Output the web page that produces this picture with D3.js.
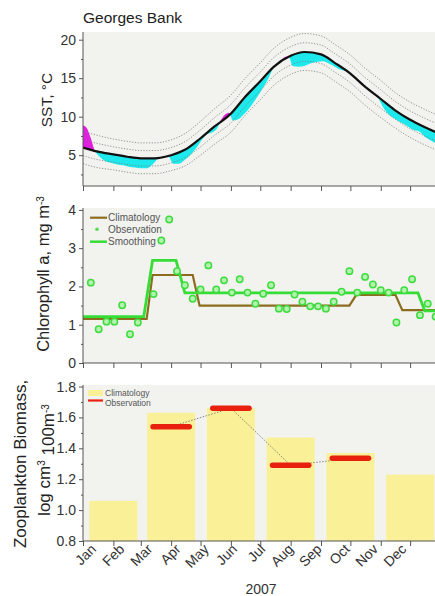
<!DOCTYPE html>
<html>
<head>
<meta charset="utf-8">
<script src="https://cdn.jsdelivr.net/npm/d3@7"></script>
<style>
  body { margin: 0; background: #ffffff; }
  text { font-family: Arial, "Liberation Sans", sans-serif; }
</style>
</head>
<body>
<svg id="chart" width="435" height="596"></svg>
<script>
// ---------------- data ----------------
const months = ["Jan","Feb","Mar","Apr","May","Jun","Jul","Aug","Sep","Oct","Nov","Dec"];

// SST climatology (semi-monthly) and its standard deviation
const sstClimDates = ["01-01","01-15","02-01","02-15","03-01","03-15","04-01","04-15","05-01","05-15",
  "06-01","06-15","07-01","07-15","08-01","08-15","09-01","09-15","10-01","10-15","11-01","11-15","12-01","12-15","12-31"];
const sstClim = [6.0,5.5,5.1,4.8,4.6,4.6,5.0,5.7,7.2,8.7,10.4,12.5,14.6,16.5,17.9,18.4,18.1,17.0,15.6,14.0,12.3,10.9,9.6,8.7,7.8];
const sstSD   = [1.05,1.05,1.0,1.0,1.0,1.0,1.0,1.05,1.1,1.15,1.2,1.2,1.2,1.2,1.2,1.2,1.2,1.2,1.2,1.2,1.2,1.15,1.15,1.15,1.15];

// SST observed in 2007
const sstObsDates = ["01-01","01-05","01-09","01-13","01-18","01-24","01-30","02-05","02-11","02-17","02-23",
  "03-01","03-07","03-13","03-19","03-24","03-29","04-03","04-09","04-15","04-21","04-27","05-03","05-07",
  "05-12","05-18","05-22","05-26","05-30","06-03","06-09","06-15","06-21","06-27","07-03","07-09","07-13",
  "07-20","07-26","07-30","08-03","08-09","08-15","08-21","08-27","09-03","09-09","09-15","09-21","09-25",
  "10-01","10-08","10-12","10-16","10-23","10-29","11-04","11-10","11-16","11-22","11-28","12-04","12-10",
  "12-16","12-22","12-28","12-31"];
const sstObs = [8.9,8.5,7.2,5.6,4.8,4.2,4.0,3.8,3.7,3.5,3.4,
  3.3,3.3,3.8,4.6,4.85,4.9,3.9,3.9,4.4,5.1,6.0,7.1,7.7,
  7.9,8.5,9.6,10.3,10.5,9.5,9.7,10.4,11.3,12.4,13.6,14.9,16.0,
  17.0,17.75,17.85,16.6,16.5,16.6,16.9,17.1,17.2,16.9,16.5,16.1,16.0,
  15.6,14.8,14.5,13.9,13.1,12.5,11.1,10.2,9.7,9.2,8.8,8.3,8.1,
  7.4,6.9,6.5,6.3];

// Chlorophyll a
const chlClimDates = ["01-01","03-07","03-13","04-23","04-30","09-30","10-07","11-16","11-23","12-31"];
const chlClim = [1.15,1.15,2.30,2.30,1.50,1.50,1.78,1.78,1.38,1.38];
const chlSmoothDates = ["01-01","03-04","03-13","04-06","04-15","12-09","12-16","12-31"];
const chlSmooth = [1.21,1.21,2.68,2.68,1.83,1.83,1.36,1.36];
const chlObsDay = [8,16,24,32,40,48,56,72,80,88,96,104,112,120,128,136,144,152,160,168,176,184,192,
  200,208,216,224,232,240,248,256,264,272,280,288,296,304,312,320,328,336,344,352,360];
const chlObs = [2.10,0.88,1.08,1.08,1.51,0.75,1.06,1.80,3.20,3.75,2.40,2.03,1.68,1.92,2.55,1.92,2.16,
  1.84,2.19,1.84,1.55,1.81,2.03,1.42,1.41,1.79,1.60,1.48,1.48,1.42,1.60,1.86,2.40,1.84,2.25,2.05,1.90,
  1.84,1.06,1.90,2.19,1.25,1.55,1.21];

// Zooplankton biomass (bimonthly)
const zooDates = ["02-01","04-01","06-01","08-01","10-01","12-01"];
const zooClim = [1.06,1.63,1.66,1.47,1.37,1.23];
const zooObsDates = ["04-01","06-01","08-01","10-01"];
const zooObs = [1.54,1.66,1.29,1.335];

// axis ticks
const sstTicks = [5,10,15,20];
const sstMinor = [2.5,7.5,12.5,17.5];
const chlTicks = [0,1,2,3,4];
const chlMinor = [0.5,1.5,2.5,3.5];
const zooTicks = [0.8,1.0,1.2,1.4,1.6,1.8];
const zooMinor = [0.9,1.1,1.3,1.5,1.7];

// ---------------- drawing ----------------
const svg = d3.select("#chart");
const parse = d3.utcParse("%Y-%m-%d");
const day = s => parse("2007-" + s);
const jan1 = Date.UTC(2007, 0, 1);
const DAY = 864e5;

const plotL = 83, plotR = 440.5;
const x = d3.scaleUtc().domain([new Date(jan1), new Date(Date.UTC(2008, 0, 1))]).range([plotL, plotR]);

const BG = "#f2f3ef", AXIS = "#555", TXT = "#333";

function makePanel(id, top, bottom, domain, yTop) {
  const y = d3.scaleLinear().domain(domain).range([bottom, yTop]);
  svg.append("rect").attr("x", plotL).attr("y", top).attr("width", plotR - plotL).attr("height", bottom - top).attr("fill", BG);
  svg.append("clipPath").attr("id", id).append("rect")
    .attr("x", plotL).attr("y", top).attr("width", plotR - plotL).attr("height", bottom - top);
  const g = svg.append("g").attr("clip-path", `url(#${id})`);
  return { y, g, top, bottom };
}

function drawAxes(p, ticks, minor, fmt) {
  const ya = svg.append("g").attr("transform", `translate(${plotL},0)`)
    .call(d3.axisLeft(p.y).tickValues(ticks).tickFormat(fmt).tickSize(4).tickSizeOuter(0).tickPadding(3));
  ya.select(".domain").attr("stroke", AXIS).attr("d", `M0,${p.top}V${p.bottom}`);
  ya.selectAll(".tick line").attr("stroke", AXIS);
  ya.selectAll("text").attr("fill", TXT).attr("font-size", 14).attr("font-family", "Arial, 'Liberation Sans', sans-serif");
  const ym = svg.append("g").attr("transform", `translate(${plotL},0)`)
    .call(d3.axisLeft(p.y).tickValues(minor).tickFormat("").tickSize(2).tickSizeOuter(0));
  ym.select(".domain").remove();
  ym.selectAll(".tick line").attr("stroke", AXIS);

  const monthStarts = d3.utcMonth.range(new Date(jan1), new Date(Date.UTC(2007, 11, 2)));
  const xa = svg.append("g").attr("transform", `translate(0,${p.bottom})`)
    .call(d3.axisBottom(x).tickValues(monthStarts).tickFormat("").tickSize(5).tickSizeOuter(0));
  xa.select(".domain").attr("stroke", AXIS).attr("d", `M${plotL},0H${plotR}`);
  xa.selectAll(".tick line").attr("stroke", AXIS);
}

// ---- Panel 1: SST ----
const p1 = makePanel("clipSST", 32, 186, [1, 21], 32);
const climPts = sstClimDates.map((s, i) => ({ t: day(s), v: sstClim[i], sd: sstSD[i] }));
const obsPts = sstObsDates.map((s, i) => ({ t: day(s), v: sstObs[i] }));
const curve = d3.curveMonotoneX;

const belowClim = d3.area().x(d => x(d.t)).y0(p1.bottom).y1(d => p1.y(d.v)).curve(curve);
const aboveClim = d3.area().x(d => x(d.t)).y0(p1.top).y1(d => p1.y(d.v)).curve(curve);
svg.append("clipPath").attr("id", "belowClim").append("path").attr("d", belowClim(climPts));
svg.append("clipPath").attr("id", "aboveClim").append("path").attr("d", aboveClim(climPts));

// colder than climatology
p1.g.append("g").attr("clip-path", "url(#belowClim)").append("path")
  .attr("d", d3.area().x(d => x(d.t)).y0(p1.top).y1(d => p1.y(d.v)).curve(curve)(obsPts))
  .attr("fill", "#1de9ec");
// warmer than climatology
p1.g.append("g").attr("clip-path", "url(#aboveClim)").append("path")
  .attr("d", d3.area().x(d => x(d.t)).y0(d => p1.y(d.v)).y1(p1.bottom).curve(curve)(obsPts))
  .attr("fill", "#e01fe0");

// +/- 1 and 2 standard deviation envelopes
[-2, -1, 1, 2].forEach(k => {
  p1.g.append("path")
    .attr("d", d3.line().x(d => x(d.t)).y(d => p1.y(d.v + k * d.sd)).curve(curve)(climPts))
    .attr("fill", "none").attr("stroke", "#7a7a7a").attr("stroke-width", 0.8).attr("stroke-dasharray", "1.2,1.6");
});
p1.g.append("path")
  .attr("d", d3.line().x(d => x(d.t)).y(d => p1.y(d.v)).curve(curve)(climPts))
  .attr("fill", "none").attr("stroke", "#111").attr("stroke-width", 2.2);

drawAxes(p1, sstTicks, sstMinor, d3.format("d"));

svg.append("text").attr("x", plotL).attr("y", 23).attr("font-size", 15.5).attr("fill", "#222").text("Georges Bank");
svg.append("text").attr("transform", "translate(52,100) rotate(-90)").attr("text-anchor", "middle")
  .attr("font-size", 15.5).attr("fill", "#222").text("SST, °C");

// ---- Panel 2: Chlorophyll ----
const p2 = makePanel("clipChl", 208, 363, [0, 4.05], 208);
const lineXY = (dates, vals) => d3.line().x((d, i) => x(day(dates[i]))).y((d, i) => p2.y(vals[i]))(vals);
p2.g.append("path").attr("d", lineXY(chlClimDates, chlClim))
  .attr("fill", "none").attr("stroke", "#8c6d1f").attr("stroke-width", 2.2);
p2.g.append("path").attr("d", lineXY(chlSmoothDates, chlSmooth))
  .attr("fill", "none").attr("stroke", "#36dd36").attr("stroke-width", 2.8);
p2.g.selectAll("circle.obs").data(chlObs).join("circle").attr("class", "obs")
  .attr("cx", (d, i) => x(new Date(jan1 + chlObsDay[i] * DAY)))
  .attr("cy", d => p2.y(d)).attr("r", 3.2)
  .attr("fill", "#b4f2b0").attr("stroke", "#3fdc3f").attr("stroke-width", 1.5);

drawAxes(p2, chlTicks, chlMinor, d3.format("d"));

const lg2 = svg.append("g").attr("font-size", 10).attr("fill", "#555");
lg2.append("line").attr("x1", 90).attr("x2", 107).attr("y1", 217.7).attr("y2", 217.7).attr("stroke", "#8c6d1f").attr("stroke-width", 2.2);
lg2.append("text").attr("x", 108).attr("y", 221).text("Climatology");
lg2.append("circle").attr("cx", 97).attr("cy", 229.3).attr("r", 1.8).attr("fill", "#55dd55");
lg2.append("text").attr("x", 108).attr("y", 232.8).text("Observation");
lg2.append("line").attr("x1", 90).attr("x2", 107).attr("y1", 241.7).attr("y2", 241.7).attr("stroke", "#36dd36").attr("stroke-width", 2.5);
lg2.append("text").attr("x", 108).attr("y", 245).text("Smoothing");

const chlLab = svg.append("text").attr("transform", "translate(49,274) rotate(-90)").attr("text-anchor", "middle")
  .attr("font-size", 16.5).attr("fill", "#222");
chlLab.append("tspan").text("Chlorophyll a, mg m");
chlLab.append("tspan").attr("dy", "-0.5em").attr("font-size", 10).text("-3");

// ---- Panel 3: Zooplankton ----
const p3 = makePanel("clipZoo", 385, 541, [0.8, 1.81], 385);
const barHalf = 24.5 * DAY, obsHalf = 18.5 * DAY;
p3.g.selectAll("rect.bar").data(zooClim).join("rect").attr("class", "bar")
  .attr("x", (d, i) => x(new Date(+day(zooDates[i]) - barHalf)))
  .attr("width", (d, i) => x(new Date(+day(zooDates[i]) + barHalf)) - x(new Date(+day(zooDates[i]) - barHalf)))
  .attr("y", d => p3.y(d)).attr("height", d => p3.bottom - p3.y(d))
  .attr("fill", "#faf097");
p3.g.append("path")
  .attr("d", d3.line().x((d, i) => x(day(zooObsDates[i]))).y(d => p3.y(d))(zooObs))
  .attr("fill", "none").attr("stroke", "#777").attr("stroke-width", 0.9).attr("stroke-dasharray", "1.5,1.5");
p3.g.selectAll("line.obs").data(zooObs).join("line").attr("class", "obs")
  .attr("x1", (d, i) => x(new Date(+day(zooObsDates[i]) - obsHalf)))
  .attr("x2", (d, i) => x(new Date(+day(zooObsDates[i]) + obsHalf)))
  .attr("y1", d => p3.y(d)).attr("y2", d => p3.y(d))
  .attr("stroke", "#e8200e").attr("stroke-width", 5.5).attr("stroke-linecap", "round");

drawAxes(p3, zooTicks, zooMinor, d3.format(".1f"));

const lg3 = svg.append("g").attr("font-size", 8.5).attr("fill", "#555");
lg3.append("rect").attr("x", 88).attr("y", 390).attr("width", 15).attr("height", 6).attr("fill", "#faf097");
lg3.append("text").attr("x", 105).attr("y", 396).text("Climatology");
lg3.append("line").attr("x1", 88).attr("x2", 103).attr("y1", 400.5).attr("y2", 400.5).attr("stroke", "#e8200e").attr("stroke-width", 2.2);
lg3.append("text").attr("x", 105).attr("y", 405.5).text("Observation");

// month labels under the bottom panel
const labelX = d3.scalePoint().domain(months).range([x(new Date(jan1)) + 14, x(day("12-01")) - 3]);
svg.append("g").selectAll("text").data(months).join("text")
  .attr("transform", m => `translate(${labelX(m)},550) rotate(-45)`)
  .attr("text-anchor", "end").attr("font-size", 14).attr("fill", TXT).text(m => m);
svg.append("text").attr("x", 261).attr("y", 594).attr("text-anchor", "middle")
  .attr("font-size", 14).attr("fill", TXT).text("2007");

const zl1 = svg.append("text").attr("transform", "translate(26,464) rotate(-90)").attr("text-anchor", "middle")
  .attr("font-size", 17).attr("fill", "#222").text("Zooplankton Biomass,");
const zl2 = svg.append("text").attr("transform", "translate(50,460) rotate(-90)").attr("text-anchor", "middle")
  .attr("font-size", 17).attr("fill", "#222");
zl2.append("tspan").text("log cm");
zl2.append("tspan").attr("dy", "-0.5em").attr("font-size", 10).text("3");
zl2.append("tspan").attr("dy", "0.5em").text(" 100m");
zl2.append("tspan").attr("dy", "-0.5em").attr("font-size", 10).text("-3");
</script>
</body>
</html>
